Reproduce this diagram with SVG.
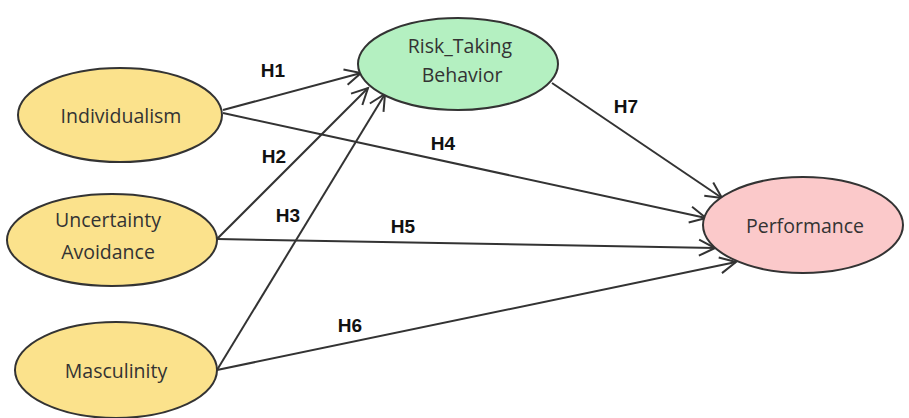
<svg xmlns="http://www.w3.org/2000/svg" width="909" height="418" viewBox="0 0 909 418">
<defs>
<marker id="arr" markerWidth="22" markerHeight="22" refX="20" refY="11" orient="auto" markerUnits="userSpaceOnUse">
<path d="M4,3 L20,11 L4,19" fill="none" stroke="#333" stroke-width="2"/>
</marker>
<style>
.node{stroke:#333;stroke-width:2}
.y{fill:#FBE28C}
.g{fill:#B4F0C1}
.p{fill:#FBC9CA}
.t{font-family:"Open Sans",Lato,sans-serif;font-size:19.5px;fill:#333;text-anchor:middle}
.e{fill:none;stroke:#333;stroke-width:2;marker-end:url(#arr)}
.h{font-family:"Liberation Sans",Arial,sans-serif;font-weight:bold;font-size:19px;fill:#111;text-anchor:middle}
</style>
</defs>
<rect width="909" height="418" fill="#fff"/>
<g id="connectors">
<line class="e" x1="223" y1="110" x2="361" y2="73"/>
<line class="e" x1="223" y1="113" x2="706" y2="218"/>
<line class="e" x1="217" y1="239" x2="368" y2="88"/>
<line class="e" x1="217" y1="239" x2="715" y2="248"/>
<line class="e" x1="217" y1="370" x2="385" y2="94"/>
<line class="e" x1="217" y1="370" x2="736" y2="262"/>
<line class="e" x1="552" y1="83" x2="722" y2="198"/>
</g>
<g id="labels">
<text class="h" x="273" y="77">H1</text>
<text class="h" x="274" y="163">H2</text>
<text class="h" x="288" y="222">H3</text>
<text class="h" x="443" y="150">H4</text>
<text class="h" x="403" y="233">H5</text>
<text class="h" x="350" y="332">H6</text>
<text class="h" x="626" y="113">H7</text>
</g>
<g id="individualism">
<ellipse class="node y" cx="120" cy="115" rx="102" ry="47"/>
<text class="t" x="121" y="123">Individualism</text>
</g>
<g id="uncertainty">
<ellipse class="node y" cx="112" cy="240" rx="105" ry="46"/>
<text class="t" x="108" y="227">Uncertainty</text>
<text class="t" x="108" y="259">Avoidance</text>
</g>
<g id="masculinity">
<ellipse class="node y" cx="116" cy="370" rx="101" ry="48"/>
<text class="t" x="116" y="378">Masculinity</text>
</g>
<g id="risk">
<ellipse class="node g" cx="458" cy="64" rx="100" ry="46"/>
<text class="t" x="460" y="53">Risk_Taking</text>
<text class="t" x="462" y="82">Behavior</text>
</g>
<g id="performance">
<ellipse class="node p" cx="803" cy="225" rx="100" ry="48"/>
<text class="t" x="805" y="233">Performance</text>
</g>
</svg>
